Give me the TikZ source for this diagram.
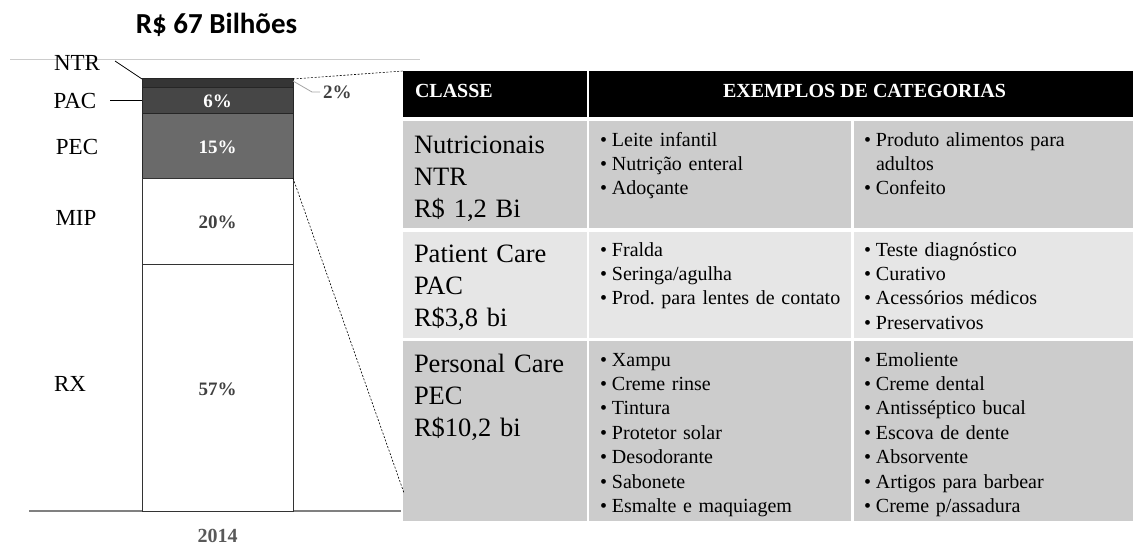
\documentclass[tikz,border=0pt]{standalone}
\usepackage{fontspec}
\setmainfont{Liberation Serif}
\newfontfamily\titlefont{Carlito}
\definecolor{segntr}{HTML}{353535}
\definecolor{segpac}{HTML}{464646}
\definecolor{segpec}{HTML}{6A6A6A}
\definecolor{segline}{HTML}{262626}
\definecolor{rowdark}{HTML}{CCCCCC}
\definecolor{rowlight}{HTML}{E6E6E6}
\definecolor{pcttext}{HTML}{404040}
\definecolor{axistext}{HTML}{595959}
\newcommand{\bul}{\makebox[12pt][l]{•}}
\frenchspacing
\begin{document}
\begin{tikzpicture}[x=1pt,y=-1pt,
  every node/.style={inner sep=0pt, outer sep=0pt},
  titletext/.style={font=\titlefont\bfseries\fontsize{29}{34}\selectfont, anchor=base},
  sidelabel/.style={font=\fontsize{23}{27}\selectfont, anchor=base},
  pctwhite/.style={font=\bfseries\fontsize{19}{22}\selectfont, text=white, anchor=base},
  pctdark/.style={font=\bfseries\fontsize{19}{22}\selectfont, text=pcttext, anchor=base},
  headtext/.style={font=\bfseries\fontsize{20}{24}\selectfont, text=white, anchor=base},
  classtext/.style={font=\fontsize{26.5}{32.3}\selectfont\frenchspacing, anchor=base west, text width=170pt, align=left},
  itemtext/.style={font=\fontsize{20}{24.4}\selectfont\frenchspacing, anchor=base west, text width=255pt, align=left},
  leader/.style={draw=black, line width=0.7pt},
  zoomline/.style={draw=black, line width=0.6pt, dash pattern=on 2pt off 1.6pt},
  segborder/.style={draw=segline, line width=0.8pt},
  cellgap/.style={draw=white, line width=2.5pt}
]
\useasboundingbox (0,0) rectangle (1135,546);

% title
\node[titletext] (title) at (216.5,33) {R\$ 67 Bilhões};

% guide line on top and axis line
\draw[color=black!20, line width=0.8pt] (10,59) -- (420,59);
\draw[color=black!50, line width=1.5pt] (29,511) -- (401,511);

% stacked bar
\fill[segntr] (142,78) rectangle (293,87);
\fill[segpac] (142,87) rectangle (293,113);
\fill[segpec] (142,113) rectangle (293,178);
\fill[white] (142,178) rectangle (293,511);
\draw[segborder] (142,78) rectangle (293,178);
\draw[segborder] (142,87) -- (293,87);
\draw[segborder] (142,113) -- (293,113);
\draw[color=black!80, line width=0.8pt] (142,178) rectangle (293,511);
\draw[color=black!80, line width=0.8pt] (142,264) -- (293,264);

% values inside the bar
\node[pctwhite] (p6) at (217.5,107) {6\%};
\node[pctwhite] (p15) at (217.5,153) {15\%};
\node[pctdark] (p20) at (217.5,228) {20\%};
\node[pctdark] (p57) at (217.5,395) {57\%};
\node[pctdark, anchor=base west] (p2) at (323,98) {2\%};
\node[font=\bfseries\fontsize{20}{24}\selectfont, text=axistext, anchor=base] (year) at (217.5,542) {2014};

% class labels left of the bar
\node[sidelabel] (lntr) at (77,70) {NTR};
\node[sidelabel] (lpac) at (75,108) {PAC};
\node[sidelabel] (lpec) at (77,154) {PEC};
\node[sidelabel] (lmip) at (76,225) {MIP};
\node[sidelabel] (lrx) at (70,391) {RX};

% anchor points of the leader lines
\coordinate (ntrfrom) at (115,61);
\coordinate (ntrto) at (142,79);
\coordinate (pacfrom) at (110,100);
\coordinate (pacto) at (142,100);
\coordinate (twocorner) at (293,81);
\coordinate (twobend) at (312,92);
\coordinate (twoend) at (320,92);
\draw[leader] (ntrfrom) -- (ntrto);
\draw[leader] (pacfrom) -- (pacto);
\draw[color=black!35, line width=0.8pt] (twocorner) -- (twobend) -- (twoend);

% table
\coordinate (tabnw) at (403,71);
\coordinate (tabsw) at (404,493);
\coordinate (bartop) at (293,79);
\coordinate (barmid) at (293,178);

\fill[black] (403,71) rectangle (1133,117);
\fill[rowdark] (403,121) rectangle (1133,228);
\fill[rowlight] (403,231.5) rectangle (1133,338);
\fill[rowdark] (403,341) rectangle (1133,521);
\draw[cellgap] (588.2,71) -- (588.2,117);
\draw[cellgap] (588.2,121) -- (588.2,521);
\draw[cellgap] (852.5,121) -- (852.5,521);

% zoom lines from the bar to the table
\draw[zoomline] (bartop) -- (tabnw);
\draw[zoomline] (barmid) -- (tabsw);

% header
\node[headtext, anchor=base west] (hclass) at (415,97) {CLASSE};
\node[headtext] (hcat) at (864.5,97) {EXEMPLOS DE CATEGORIAS};

% rows
\node[classtext] (cntr) at (414,153) {Nutricionais\\NTR\\R\$ 1,2 Bi};
\node[itemtext] (ntra) at (600,146) {\bul Leite infantil\\\bul Nutrição enteral\\\bul Adoçante};
\node[itemtext] (ntrb) at (864,146) {\bul Produto alimentos para\\\hspace*{12pt}adultos\\\bul Confeito};

\node[classtext] (cpac) at (414,262) {Patient Care\\PAC\\R\$3,8 bi};
\node[itemtext] (paca) at (600,256) {\bul Fralda\\\bul Seringa/agulha\\\bul Prod. para lentes de contato};
\node[itemtext] (pacb) at (864,256) {\bul Teste diagnóstico\\\bul Curativo\\\bul Acessórios médicos\\\bul Preservativos};

\node[classtext] (cpec) at (414,372) {Personal Care\\PEC\\R\$10,2 bi};
\node[itemtext] (peca) at (600,366) {\bul Xampu\\\bul Creme rinse\\\bul Tintura\\\bul Protetor solar\\\bul Desodorante\\\bul Sabonete\\\bul Esmalte e maquiagem};
\node[itemtext] (pecb) at (864,366) {\bul Emoliente\\\bul Creme dental\\\bul Antisséptico bucal\\\bul Escova de dente\\\bul Absorvente\\\bul Artigos para barbear\\\bul Creme p/assadura};
\end{tikzpicture}
\end{document}
